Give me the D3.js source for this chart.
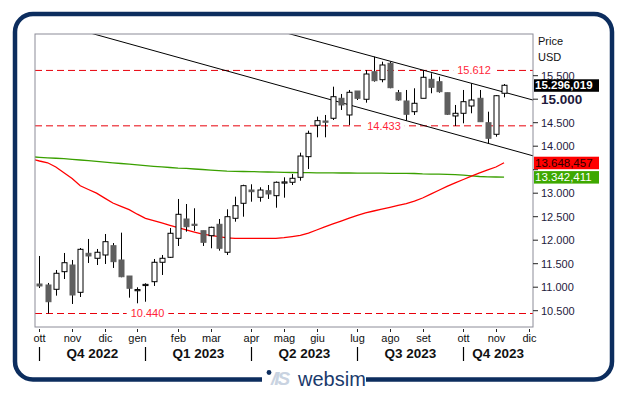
<!DOCTYPE html>
<html>
<head>
<meta charset="utf-8">
<script src="https://cdn.jsdelivr.net/npm/d3@7"></script>
<style>
  body { margin: 0; background: #fff; }
  svg { display: block; font-family: "Liberation Sans", Arial, sans-serif; }
</style>
</head>
<body>
<script>
// weekly candles, ott 2022 -> nov 2023 (USD)
const opens  = [11068,11047,10955,11330,11472,10891,11721,11615,11685,11883,11579,11238,10940,11040,11117,11530,
                11636,12040,12451,12340,12202,12096,12338,11743,12466,12785,13068,12913,13053,12947,13220,13232,
                13338,13777,14445,14536,14594,15019,14664,15174,14998,15585,15415,15764,15138,14962,14734,15019,
                15423,15372,15138,14643,14700,14855,15019,14500,14253,15126];
const highs  = [11664,11090,11366,11728,11579,11834,12026,11813,12132,11940,12160,11238,10998,11083,11600,11685,
                12260,12877,12770,12679,12202,12287,12451,12657,12926,13180,13189,13126,13174,13250,13338,13409,
                13862,14330,14628,14664,15266,15111,15196,15174,15621,15904,15798,15798,15196,15196,15232,15606,
                15551,15479,15138,14877,15196,15338,15196,14734,15089,15323];
const lows   = [10983,10440,10820,11174,10643,10791,11515,11472,11494,11409,11211,10777,10657,10691,11026,11260,
                11621,11877,12181,12202,11877,11828,11777,11685,12394,12500,12819,12819,12877,12691,12904,13174,
                13266,13515,14189,14189,14557,14770,14451,14983,14926,15372,15360,15232,14962,14543,14664,15019,
                15126,15138,14664,14430,14487,14700,14521,14062,14202,15040];
const closes = [11026,10691,11296,11521,10834,11806,11664,11743,11968,11543,11223,10977,10950,11060,11530,11615,
                12147,12551,12287,12330,11955,12274,11828,12500,12734,13160,13032,13068,12983,13232,13240,13317,
                13791,14274,14543,14509,15053,14877,15147,15019,15536,15394,15728,15245,14983,14679,14913,15466,
                15253,15160,14679,14700,14947,14983,14521,14168,15074,15296.019];

// moving averages, from the week before the first candle (index -1)
const maRed   = [13728,13685,13647,13557,13436,13311,13157,13079,13000,12896,12791,12721,12649,12553,12466,12417,
                 12368,12317,12266,12217,12172,12128,12102,12077,12051,12040,12040,12040,12040,12040,12040,12053,
                 12077,12102,12149,12217,12281,12345,12406,12468,12528,12583,12621,12662,12700,12740,12779,12832,
                 12898,12979,13062,13145,13219,13291,13364,13432,13496,13557,13648.457];
const maGreen = [13774,13764,13753,13743,13734,13721,13706,13691,13677,13662,13647,13632,13617,13602,13587,13572,
                 13560,13547,13534,13526,13515,13504,13491,13479,13470,13466,13462,13460,13455,13451,13447,13443,
                 13440,13438,13436,13434,13434,13432,13430,13430,13428,13428,13426,13426,13423,13423,13421,13419,
                 13409,13406,13404,13402,13396,13383,13370,13355,13345,13344,13342.411];

const monthLabels = ["ott","nov","dic","gen","feb","mar","apr","mag","giu","lug","ago","set","ott","nov","dic"];
const monthAt     = [0,4,8,12,17,21,26,30,34,39,43,47,52,56,60];
const quarterLabels = ["Q4 2022","Q1 2023","Q2 2023","Q3 2023","Q4 2023"];
const quarterAt     = [0,13,26,39,52];
const yTicks = [10500,11000,11500,12000,12500,13000,13500,14000,14500,15000,15500];

const levels = [15612, 14433, 10440];
// channel lines: two touch points each [week, price]
const upperLine = [[41,15904],[53,15338]];
const lowerLine = [[45,14543],[55,14062]];

const W = 628, H = 394;
const L = 35, R = 533, T = 34, B = 327;

const it = d3.formatLocale({decimal: ",", thousands: ".", grouping: [3], currency: ["", ""]});
const fmt0 = it.format(",.0f"), fmt3 = it.format(",.3f");

const svg = d3.select("body").append("svg").attr("width", W).attr("height", H);

const x = d3.scaleLinear().domain([-0.552, 60.55]).range([L, R]);
const y = d3.scaleLinear().domain([10153, 16387]).range([B, T]);

svg.append("defs").append("clipPath").attr("id", "plot")
  .append("rect").attr("x", L).attr("y", T).attr("width", R - L).attr("height", B - T);

// frame
svg.append("rect")
  .attr("x", 15).attr("y", 14).attr("width", 597).attr("height", 365.5)
  .attr("rx", 18).attr("fill", "none")
  .attr("stroke", "#0c2d5e").attr("stroke-width", 4.5);

const plot = svg.append("g").attr("clip-path", "url(#plot)");

// horizontal levels
const lvlLabelX = [474, 384, 147.5];
levels.forEach(function(v, i) {
  plot.append("line")
    .attr("x1", L).attr("x2", R).attr("y1", y(v)).attr("y2", y(v))
    .attr("stroke", "#e8000b").attr("stroke-width", 1).attr("stroke-dasharray", "7,4");
  const t = plot.append("text")
    .attr("x", lvlLabelX[i]).attr("y", y(v)).attr("dy", "0.35em")
    .attr("text-anchor", "middle").attr("font-size", 11).attr("fill", "#ff1f3a")
    .text(fmt0(v));
  const bb = t.node().getBBox();
  plot.insert("rect", "text:last-of-type")
    .attr("x", bb.x - 4).attr("y", bb.y).attr("width", bb.width + 8).attr("height", bb.height)
    .attr("fill", "#fff");
});

// channel lines
function drawTrend(pts) {
  const k = (pts[1][1] - pts[0][1]) / (pts[1][0] - pts[0][0]);
  const d0 = x.domain()[0] - 1, d1 = x.domain()[1] + 1;
  plot.append("line")
    .attr("x1", x(d0)).attr("y1", y(pts[0][1] + k * (d0 - pts[0][0])))
    .attr("x2", x(d1)).attr("y2", y(pts[0][1] + k * (d1 - pts[0][0])))
    .attr("stroke", "#000").attr("stroke-width", 1);
}
drawTrend(upperLine);
drawTrend(lowerLine);

// moving averages
const maLine = d3.line().x((d, i) => x(i - 1)).y(d => y(d));
plot.append("path").datum(maGreen).attr("d", maLine)
  .attr("fill", "none").attr("stroke", "#3aa000").attr("stroke-width", 1.3);
plot.append("path").datum(maRed).attr("d", maLine)
  .attr("fill", "none").attr("stroke", "#ff0000").attr("stroke-width", 1.3);

// candles
const candles = opens.map((o, i) => ({i: i, o: o, h: highs[i], l: lows[i], c: closes[i]}));
const cg = plot.selectAll("g.candle").data(candles).enter().append("g").attr("class", "candle");
cg.append("line")
  .attr("x1", d => Math.round(x(d.i)) + 0.5).attr("x2", d => Math.round(x(d.i)) + 0.5)
  .attr("y1", d => y(d.h)).attr("y2", d => y(d.l))
  .attr("stroke", "#000").attr("stroke-width", 1);
cg.append("rect")
  .attr("x", d => Math.round(x(d.i)) - 2)
  .attr("y", d => y(Math.max(d.o, d.c)))
  .attr("width", 5)
  .attr("height", d => Math.max(1.2, Math.abs(y(d.o) - y(d.c))))
  .attr("fill", d => d.c >= d.o ? "#fff" : "#5f5f5f")
  .attr("stroke", d => d.c >= d.o ? "#000" : "#5f5f5f")
  .attr("stroke-width", 1);

// plot border
svg.append("rect").attr("x", L).attr("y", T).attr("width", R - L).attr("height", B - T)
  .attr("fill", "none").attr("stroke", "#8c8c98").attr("stroke-width", 1);

// value boxes (last close and the two averages)
const boxes = [
  {v: closes[closes.length - 1], fill: "#000", col: "#fff", bold: true},
  {v: maRed[maRed.length - 1], fill: "#ff0000", col: "#2a0000", bold: false},
  {v: maGreen[maGreen.length - 1], fill: "#3ea800", col: "#fff", bold: false}
];

// right axis, labels hidden under a box are skipped
const yAxis = svg.append("g").attr("font-size", 11);
yTicks.forEach(function(v) {
  yAxis.append("line").attr("x1", R).attr("x2", R + 5).attr("y1", y(v)).attr("y2", y(v))
    .attr("stroke", "#222");
  const hidden = boxes.some(b => Math.abs(y(b.v) - y(v)) < 8);
  if (hidden) return;
  yAxis.append("text").attr("x", R + 8).attr("y", y(v)).attr("dy", "0.36em")
    .attr("fill", "#1e1a3c")
    .attr("font-size", v === 15000 ? 13.5 : 11)
    .attr("font-weight", v === 15000 ? "bold" : "normal")
    .text(fmt0(v));
});
svg.append("text").attr("x", 538).attr("y", 45).attr("font-size", 11).attr("fill", "#111").text("Price");
svg.append("text").attr("x", 538).attr("y", 61).attr("font-size", 11).attr("fill", "#111").text("USD");

boxes.forEach(function(b) {
  svg.append("rect").attr("x", 534).attr("y", y(b.v) - 6).attr("width", 65).attr("height", 12.5)
    .attr("fill", b.fill);
  svg.append("text").attr("x", 535).attr("y", y(b.v)).attr("dy", "0.36em")
    .attr("font-size", 11.5).attr("font-weight", b.bold ? "bold" : "normal")
    .attr("fill", b.col).text(fmt3(b.v));
});

// bottom axis
const xAxis = svg.append("g");
monthAt.forEach(function(m, i) {
  const px = Math.round(x(m)) + 0.5;
  xAxis.append("line").attr("x1", px).attr("x2", px).attr("y1", B + 2).attr("y2", B + 5).attr("stroke", "#222");
  xAxis.append("text").attr("x", px).attr("y", B + 15).attr("text-anchor", "middle")
    .attr("font-size", 11).attr("fill", "#111").text(monthLabels[i]);
});
quarterAt.forEach(function(q, i) {
  const px = Math.round(x(q)) + 0.5;
  const nx = i < quarterAt.length - 1 ? x(quarterAt[i + 1]) : R;
  xAxis.append("line").attr("x1", px).attr("x2", px).attr("y1", B + 20).attr("y2", B + 34)
    .attr("stroke", "#000").attr("stroke-width", 1.2);
  xAxis.append("text").attr("x", (x(q) + nx) / 2).attr("y", B + 31).attr("text-anchor", "middle")
    .attr("font-size", 13.5).attr("font-weight", "bold").attr("fill", "#111").text(quarterLabels[i]);
});

// logo
svg.append("rect").attr("x", 262).attr("y", 370).attr("width", 104).attr("height", 18).attr("fill", "#fff");
svg.append("circle").attr("cx", 269).attr("cy", 372.5).attr("r", 2.4).attr("fill", "#0c2d5e");
svg.append("text").attr("x", 271).attr("y", 385).attr("font-size", 19).attr("font-weight", "bold")
  .attr("font-style", "italic").attr("letter-spacing", -2).attr("fill", "#c9d3e1").text("/IS");
svg.append("text").attr("x", 298).attr("y", 386).attr("font-size", 20).attr("fill", "#1a3a6c").text("websim");
</script>
</body>
</html>
